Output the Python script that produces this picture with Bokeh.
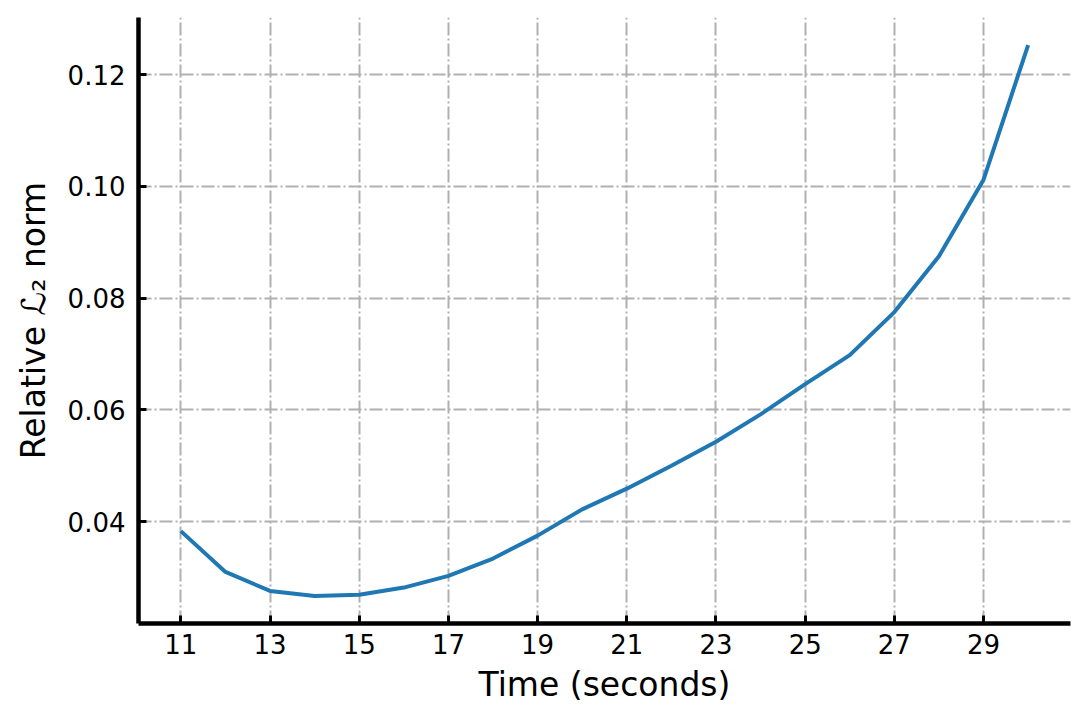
from bokeh.plotting import figure
from bokeh.models import FixedTicker, NumeralTickFormatter, Range1d
from bokeh.embed import file_html
from bokeh.resources import INLINE

time_s = [11, 12, 13, 14, 15, 16, 17, 18, 19, 20, 21, 22, 23, 24, 25, 26, 27, 28, 29, 30]
rel_norm = [0.0383, 0.0310, 0.0276, 0.0267, 0.0269, 0.0282, 0.0303, 0.0334, 0.0375, 0.0422,
            0.0459, 0.0500, 0.0543, 0.0592, 0.0646, 0.0698, 0.0775, 0.0875, 0.1012, 0.1253]
x_ticks = [11, 13, 15, 17, 19, 21, 23, 25, 27, 29]
y_ticks = [0.04, 0.06, 0.08, 0.10, 0.12]

xmin, xmax = min(time_s), max(time_s)
ymin, ymax = min(rel_norm), max(rel_norm)
mx = (xmax - xmin) * 0.05
my = (ymax - ymin) * 0.05

p = figure(width=1080, height=720, output_backend="svg", toolbar_location=None,
           x_range=Range1d(xmin - mx, xmax + mx), y_range=Range1d(ymin - my, ymax + my),
           min_border_left=138, min_border_right=10, min_border_top=17, min_border_bottom=97)
p.outline_line_color = None
p.background_fill_color = "white"
p.border_fill_color = "white"

p.line(time_s, rel_norm, line_color="#1f77b4", line_width=4)

font = "DejaVu Sans"
for ax in (p.xaxis[0], p.yaxis[0]):
    ax.axis_line_width = 4.5
    ax.axis_line_color = "black"
    ax.major_tick_in = 8
    ax.major_tick_out = 0
    ax.major_tick_line_width = 3
    ax.major_tick_line_color = "black"
    ax.minor_tick_line_color = None
    ax.major_label_text_font = font
    ax.major_label_text_font_size = "26px"
    ax.major_label_text_color = "black"
    ax.axis_label_text_font = font
    ax.axis_label_text_font_size = "33px"
    ax.axis_label_text_font_style = "normal"
    ax.axis_label_text_color = "black"

p.xaxis.ticker = FixedTicker(ticks=x_ticks)
p.yaxis.ticker = FixedTicker(ticks=y_ticks)
p.yaxis.formatter = NumeralTickFormatter(format="0.00")
p.xaxis.axis_label = "Time (seconds)"
p.yaxis.axis_label = "Relative \u2112\u2082 norm"
p.xaxis.major_label_standoff = 10
p.yaxis.major_label_standoff = 13
p.xaxis.axis_label_standoff = 8
p.yaxis.axis_label_standoff = 12

for g in (p.xgrid[0], p.ygrid[0]):
    g.grid_line_color = "#b0b0b0"
    g.grid_line_width = 2
    g.grid_line_dash = "13 3 2 3"

open("out.html", "w").write(file_html(p, INLINE))
